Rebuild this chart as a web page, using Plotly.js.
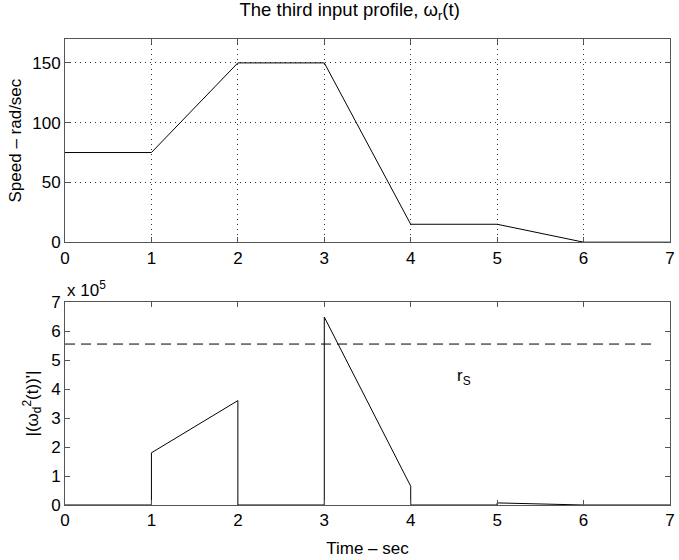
<!DOCTYPE html>
<html>
<head>
<meta charset="utf-8">
<script src="https://cdn.plot.ly/plotly-3.0.1.min.js"></script>
<style>html,body{margin:0;padding:0;background:#fff;}#chart{width:679px;height:560px;}</style>
</head>
<body>
<div id="chart"></div>
<script>
// Top panel: speed profile
const speedTime = [0, 1, 2, 3, 4, 5, 6, 7];
const speedValues = [75, 75, 150, 150, 15, 15, 0, 0];
// Bottom panel: |(w_d^2(t))'| in units of 1e5
const derivTime = [0, 1, 1, 2, 2, 3, 3, 4, 4, 5, 5, 6, 7];
const derivValues = [0, 0, 1.8, 3.6, 0, 0, 6.48, 0.648, 0, 0, 0.072, 0, 0];
// Threshold r_S (units of 1e5)
const rsTime = [0, 6.8];
const rsValues = [5.55, 5.55];
const xTicks = [0, 1, 2, 3, 4, 5, 6, 7];
const speedTicks = [0, 50, 100, 150];
const derivTicks = [0, 1, 2, 3, 4, 5, 6, 7];

const fam = 'Liberation Sans, Arial, sans-serif';
const font = {family: fam, size: 17, color: '#000'};
const axCommon = {
  showline: true, linecolor: '#555', linewidth: 1, mirror: 'ticks',
  ticks: 'inside', ticklen: 5, tickcolor: '#555', zeroline: false,
  tickfont: font, ticklabelstandoff: 0
};

const traces = [
  {x: speedTime, y: speedValues, mode: 'lines', line: {color: '#000', width: 1}, xaxis: 'x', yaxis: 'y', hoverinfo: 'skip'},
  {x: derivTime, y: derivValues, mode: 'lines', line: {color: '#000', width: 1}, xaxis: 'x2', yaxis: 'y2', hoverinfo: 'skip'},
  {x: rsTime, y: rsValues, mode: 'lines', line: {color: '#000', width: 1, dash: '10px,6px'}, xaxis: 'x2', yaxis: 'y2', hoverinfo: 'skip'}
];

const layout = {
  width: 679, height: 560,
  margin: {l: 65, r: 9, t: 39, b: 55},
  paper_bgcolor: '#fff', plot_bgcolor: '#fff',
  showlegend: false,
  font: font,
  title: {text: 'The third input profile, ω<sub>r</sub>(t)', font: {family: fam, size: 18.5, color: '#000'}, x: 0.515, xanchor: 'center', y: 0.995, yanchor: 'top'},
  xaxis: Object.assign({}, axCommon, {domain: [0, 1], range: [0, 7], tickvals: xTicks, anchor: 'y',
    showgrid: true, gridcolor: '#333', griddash: '1px,4px', gridwidth: 1}),
  yaxis: Object.assign({}, axCommon, {domain: [0.564, 1], range: [0, 170], tickvals: speedTicks, anchor: 'x',
    showgrid: true, gridcolor: '#333', griddash: '1px,4px', gridwidth: 1,
    title: {text: 'Speed – rad/sec', font: font, standoff: 6}}),
  xaxis2: Object.assign({}, axCommon, {domain: [0, 1], range: [0, 7], tickvals: xTicks, anchor: 'y2', showgrid: false,
    title: {text: 'Time – sec', font: font, standoff: 12}}),
  yaxis2: Object.assign({}, axCommon, {domain: [0, 0.4356], range: [0, 7], tickvals: derivTicks, anchor: 'x2', showgrid: false,
    title: {text: "|(ω<sub>d</sub><sup>2</sup>(t))'|", font: font, standoff: 8}}),
  annotations: [
    {xref: 'paper', yref: 'paper', x: 0, y: 0.4356, xanchor: 'left', yanchor: 'bottom', showarrow: false,
     text: 'x 10<sup>5</sup>', font: font, yshift: 0},
    {xref: 'x2', yref: 'y2', x: 4.62, y: 4.4, showarrow: false, text: 'r<sub>S</sub>', font: font}
  ]
};

Plotly.newPlot('chart', traces, layout, {displayModeBar: false, staticPlot: true});
</script>
</body>
</html>
